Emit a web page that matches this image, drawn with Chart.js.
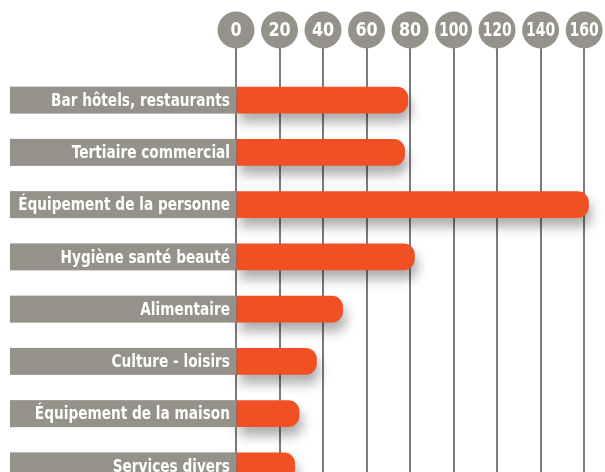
<!DOCTYPE html>
<html>
<head>
<meta charset="utf-8">
<script src="https://cdn.jsdelivr.net/npm/chart.js@4.4.0/dist/chart.umd.min.js"></script>
<style>
  html, body { margin: 0; padding: 0; background: #fff; overflow: hidden; }
  /* canvas is a bit taller than the window: the last row is cut off like in the print */
  #wrap { width: 605px; height: 492px; position: relative; }
</style>
</head>
<body>
<div id="wrap"><canvas id="chart"></canvas></div>
<script>
// Chart data
const categories = [
  'Bar hôtels, restaurants',
  'Tertiaire commercial',
  'Équipement de la personne',
  'Hygiène santé beauté',
  'Alimentaire',
  'Culture - loisirs',
  'Équipement de la maison',
  'Services divers'
];
const values = [79, 77.5, 162, 82, 49, 37, 29, 27];
const xTicks = [0, 20, 40, 60, 80, 100, 120, 140, 160];

const GREY = '#94928a';
const ORANGE = '#f05023';
const LABEL_FONT = "bold 18px 'DejaVu Sans', sans-serif";
const TICK_FONT = "bold 20px 'DejaVu Sans', sans-serif";

// narrow text by squeezing it horizontally
function fillCondensed(ctx, text, x, y, sx) {
  ctx.save();
  ctx.translate(x, y);
  ctx.scale(sx, 1);
  ctx.fillText(text, 0, 0);
  ctx.restore();
}

// Drop shadow under the bars
const barShadow = {
  id: 'barShadow',
  beforeDatasetDraw(chart) {
    const ctx = chart.ctx;
    ctx.save();
    ctx.shadowColor = 'rgba(0, 0, 0, 0.32)';
    ctx.shadowBlur = 12;
    ctx.shadowOffsetX = 3;
    ctx.shadowOffsetY = 9;
  },
  afterDatasetDraw(chart) {
    chart.ctx.restore();
  }
};

// Grey label boxes on the left of each bar
const labelBoxes = {
  id: 'labelBoxes',
  afterDatasetsDraw(chart) {
    const ctx = chart.ctx;
    const left = chart.chartArea.left;
    const meta = chart.getDatasetMeta(0);
    ctx.save();
    ctx.font = LABEL_FONT;
    ctx.textAlign = 'right';
    ctx.textBaseline = 'middle';
    meta.data.forEach((bar, i) => {
      ctx.fillStyle = GREY;
      ctx.fillRect(10, bar.y - 13.5, left - 10, 27);
      ctx.fillStyle = '#fff';
      fillCondensed(ctx, categories[i], left - 6, bar.y + 1, 0.76);
    });
    ctx.restore();
  }
};

// Round tick badges on top of the grid lines
const tickBadges = {
  id: 'tickBadges',
  afterDraw(chart) {
    const ctx = chart.ctx;
    const scale = chart.scales.x;
    const cy = chart.chartArea.top - 26 - 18;
    ctx.save();
    ctx.font = TICK_FONT;
    ctx.textAlign = 'center';
    ctx.textBaseline = 'middle';
    xTicks.forEach(v => {
      const cx = scale.getPixelForValue(v);
      ctx.fillStyle = GREY;
      ctx.beginPath();
      ctx.arc(cx, cy, 18.5, 0, Math.PI * 2);
      ctx.fill();
      ctx.fillStyle = '#fff';
      fillCondensed(ctx, String(v), cx, cy + 1, v >= 100 ? 0.7 : 0.8);
    });
    ctx.restore();
  }
};

new Chart(document.getElementById('chart'), {
  type: 'bar',
  data: {
    labels: categories,
    datasets: [{
      data: values,
      backgroundColor: ORANGE,
      barThickness: 26,
      borderSkipped: 'start',
      borderRadius: { topRight: 11, bottomRight: 11 },
      clip: false
    }]
  },
  options: {
    indexAxis: 'y',
    responsive: true,
    maintainAspectRatio: false,
    animation: false,
    layout: {
      padding: { left: 236, right: 10, top: 48, bottom: 0 }
    },
    plugins: {
      legend: { display: false },
      tooltip: { enabled: false }
    },
    scales: {
      x: {
        position: 'top',
        min: 0,
        max: 165,
        afterBuildTicks: scale => {
          scale.ticks = xTicks.map(v => ({ value: v }));
        },
        ticks: { display: false },
        border: { display: false },
        grid: {
          color: '#7b7b7f',
          lineWidth: 2,
          tickLength: 26,
          drawTicks: true
        }
      },
      y: {
        display: false,
        offset: true
      }
    }
  },
  plugins: [barShadow, labelBoxes, tickBadges]
});
</script>
</body>
</html>
